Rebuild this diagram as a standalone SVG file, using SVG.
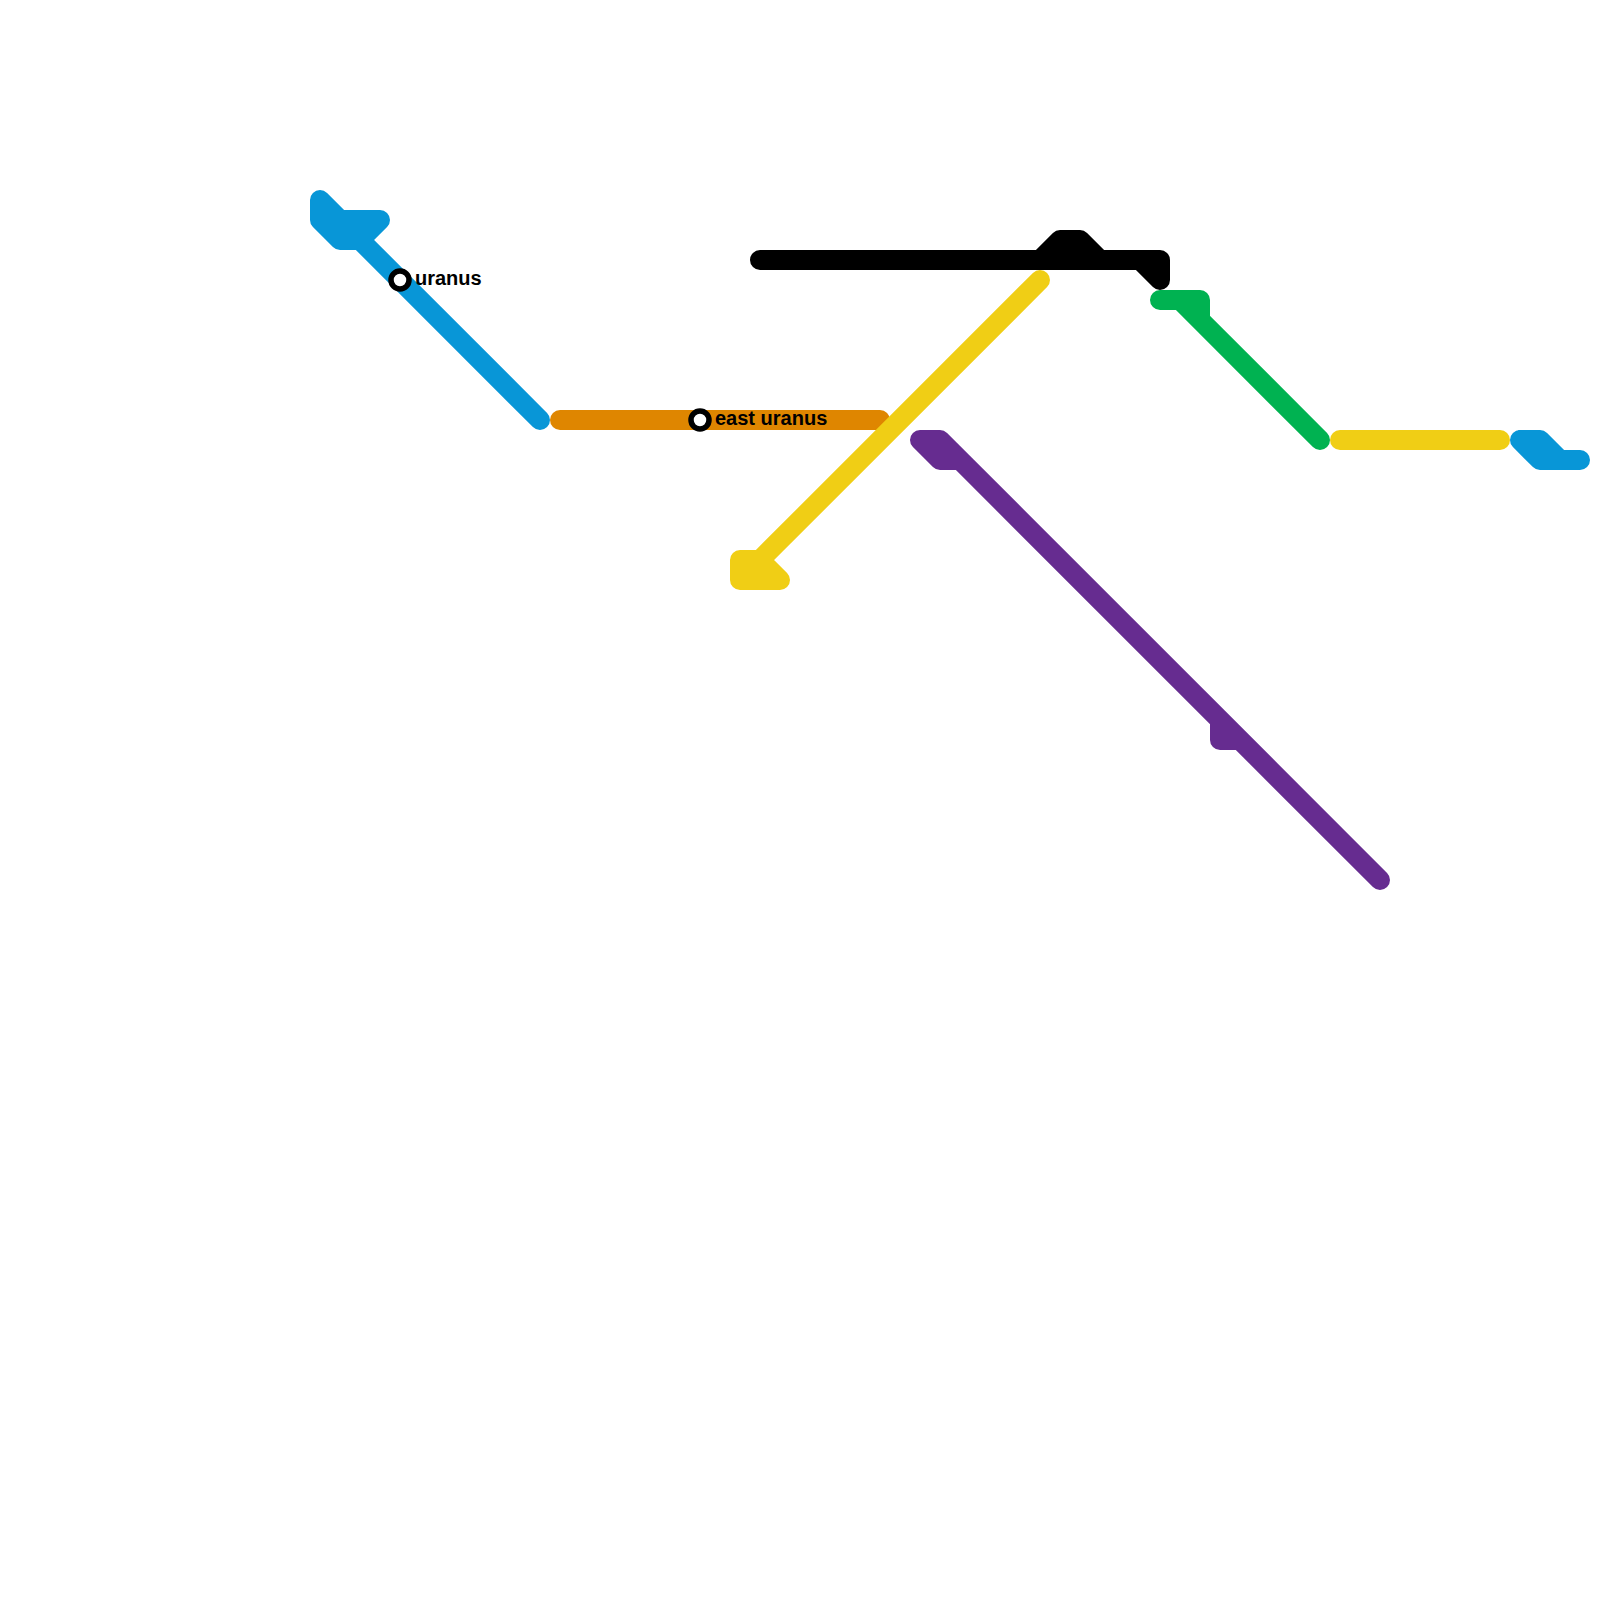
<svg xmlns="http://www.w3.org/2000/svg" width="1600" height="1600" viewBox="0 0 1600 1600">
<style>
.c{fill:none;stroke-width:20;stroke-linecap:round;stroke-linejoin:round}
.b{stroke:#0896d7}.o{stroke:#df8600}.y{stroke:#f0ce15}.k{stroke:#000}.g{stroke:#00b251}.p{stroke:#662c90}
.s{fill:#fff;stroke:#000;stroke-width:5.5}
.t{font-family:"Liberation Sans",Arial,sans-serif;font-weight:700;font-size:20px;fill:#000}
</style>
<g id="connectors">
<path class="c b" d="M540 420L320 200V220L340 240H360L380 220H340"/>
<path class="c o" d="M560 420H880"/>
<path class="c y" d="M1040 280L760 560H740V580H780L760 560"/>
<path class="c k" d="M760 260H1160V280L1140 260M1040 260L1060 240H1080L1100 260"/>
<path class="c g" d="M1160 300H1200V320M1180 300L1320 440"/>
<path class="c p" d="M1380 880L940 440H920L940 460H960M1220 720V740H1240"/>
<path class="c y" d="M1340 440H1500"/>
<path class="c b" d="M1520 440H1540L1560 460H1580M1520 440L1540 460H1560"/>
</g>
<g id="uranus"><circle class="s" cx="400" cy="280" r="9"/><text class="t" x="415" y="285">uranus</text></g>
<g id="east-uranus"><circle class="s" cx="700" cy="420" r="9"/><text class="t" x="715" y="425">east uranus</text></g>
</svg>
